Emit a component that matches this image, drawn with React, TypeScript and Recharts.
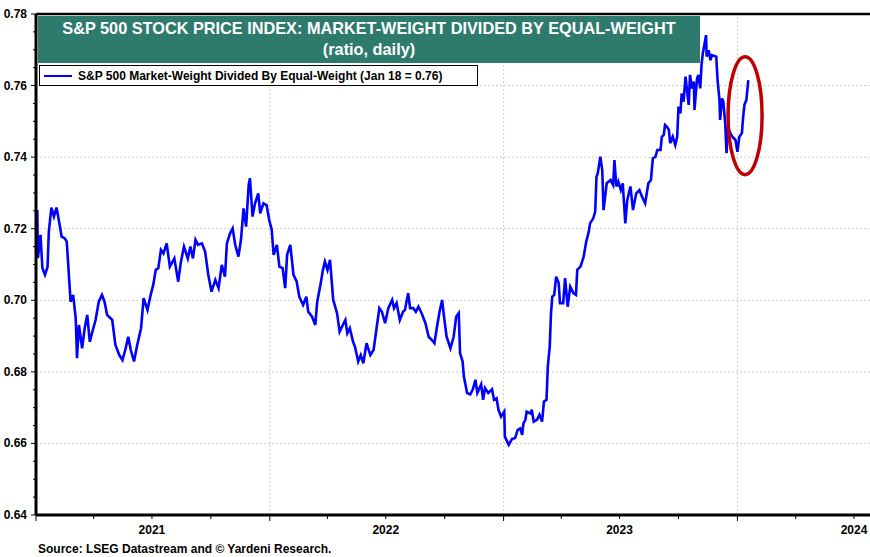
import { LineChart, Line, XAxis, YAxis, ReferenceLine, ReferenceDot } from "recharts"

const FONT = "'Liberation Sans', Arial, sans-serif"

// S&P 500 market-weight / equal-weight ratio
const ratio2021: [string, number][] = [
  ["2021-01-03", 0.7252], ["2021-01-04", 0.7118], ["2021-01-08", 0.7183], ["2021-01-11", 0.709],
  ["2021-01-15", 0.7071], ["2021-01-19", 0.7093], ["2021-01-21", 0.7191], ["2021-01-25", 0.7259],
  ["2021-01-29", 0.7234], ["2021-02-02", 0.7259], ["2021-02-06", 0.722], ["2021-02-10", 0.7178],
  ["2021-02-15", 0.7173], ["2021-02-18", 0.7164], ["2021-02-22", 0.7052], ["2021-02-24", 0.6996],
  ["2021-02-28", 0.7015], ["2021-03-04", 0.695], ["2021-03-06", 0.6838], ["2021-03-09", 0.6931],
  ["2021-03-14", 0.6866], ["2021-03-18", 0.6922], ["2021-03-22", 0.6959], ["2021-03-26", 0.6884],
  ["2021-03-30", 0.6912], ["2021-04-04", 0.6945], ["2021-04-09", 0.6996], ["2021-04-14", 0.7015],
  ["2021-04-18", 0.6996], ["2021-04-22", 0.6959], ["2021-04-30", 0.6945], ["2021-05-05", 0.6875],
  ["2021-05-11", 0.6847], ["2021-05-16", 0.6833], ["2021-05-21", 0.6866], ["2021-05-25", 0.6898],
  ["2021-05-29", 0.6861], ["2021-06-03", 0.6829], ["2021-06-08", 0.6875], ["2021-06-14", 0.6922],
  ["2021-06-18", 0.7006], ["2021-06-24", 0.6973], ["2021-06-29", 0.7015], ["2021-07-03", 0.7043],
  ["2021-07-07", 0.7085], ["2021-07-11", 0.709], ["2021-07-15", 0.7141], ["2021-07-19", 0.7131],
  ["2021-07-24", 0.7159], ["2021-07-29", 0.7094], ["2021-08-05", 0.7117], ["2021-08-11", 0.7052],
  ["2021-08-15", 0.7105], ["2021-08-20", 0.715], ["2021-08-26", 0.7117], ["2021-08-30", 0.715],
  ["2021-09-03", 0.7117], ["2021-09-07", 0.7169], ["2021-09-11", 0.7155], ["2021-09-17", 0.7159],
  ["2021-09-22", 0.7136], ["2021-09-27", 0.7071], ["2021-10-02", 0.7024], ["2021-10-08", 0.7057],
  ["2021-10-13", 0.7034], ["2021-10-18", 0.7099], ["2021-10-23", 0.7066], ["2021-10-26", 0.7159],
  ["2021-10-31", 0.7187], ["2021-11-04", 0.7201], ["2021-11-08", 0.7155], ["2021-11-13", 0.7122],
  ["2021-11-17", 0.7169], ["2021-11-21", 0.7257], ["2021-11-25", 0.7206], ["2021-11-29", 0.7322],
  ["2021-12-01", 0.7341], ["2021-12-05", 0.7234], ["2021-12-09", 0.7271], ["2021-12-14", 0.7299],
  ["2021-12-17", 0.7243], ["2021-12-22", 0.7271], ["2021-12-27", 0.7266], ["2021-12-31", 0.7225],
]

const ratio2022: [string, number][] = [
  ["2022-01-04", 0.7197], ["2022-01-07", 0.7127], ["2022-01-12", 0.7155], ["2022-01-16", 0.7094],
  ["2022-01-21", 0.709], ["2022-01-25", 0.7034], ["2022-01-28", 0.7127], ["2022-02-02", 0.7155],
  ["2022-02-07", 0.7071], ["2022-02-12", 0.7052], ["2022-02-16", 0.701], ["2022-02-22", 0.6987],
  ["2022-02-27", 0.701], ["2022-03-02", 0.6968], ["2022-03-08", 0.6954], ["2022-03-13", 0.6931],
  ["2022-03-16", 0.6996], ["2022-03-21", 0.7043], ["2022-03-25", 0.7085], ["2022-03-28", 0.7108],
  ["2022-04-01", 0.7085], ["2022-04-05", 0.7113], ["2022-04-10", 0.7001], ["2022-04-16", 0.6964],
  ["2022-04-20", 0.6912], ["2022-04-25", 0.6931], ["2022-04-29", 0.6945], ["2022-05-02", 0.6908],
  ["2022-05-06", 0.6922], ["2022-05-11", 0.6884], ["2022-05-14", 0.687], ["2022-05-19", 0.6829],
  ["2022-05-23", 0.6847], ["2022-05-27", 0.6824], ["2022-06-01", 0.688], ["2022-06-07", 0.6847],
  ["2022-06-12", 0.6861], ["2022-06-17", 0.6926], ["2022-06-21", 0.6978], ["2022-06-25", 0.6968],
  ["2022-06-30", 0.6936], ["2022-07-05", 0.6978], ["2022-07-11", 0.7001], ["2022-07-14", 0.6978],
  ["2022-07-18", 0.6992], ["2022-07-23", 0.6945], ["2022-07-28", 0.6968], ["2022-07-31", 0.6973],
  ["2022-08-05", 0.702], ["2022-08-08", 0.6978], ["2022-08-13", 0.6978], ["2022-08-17", 0.6968],
  ["2022-08-21", 0.6982], ["2022-08-26", 0.6964], ["2022-09-01", 0.6936], ["2022-09-06", 0.6898],
  ["2022-09-11", 0.6889], ["2022-09-15", 0.688], ["2022-09-19", 0.6926], ["2022-09-23", 0.6968],
  ["2022-09-27", 0.7001], ["2022-09-30", 0.6954], ["2022-10-04", 0.6898], ["2022-10-10", 0.6866],
  ["2022-10-15", 0.6898], ["2022-10-19", 0.6954], ["2022-10-23", 0.6964], ["2022-10-25", 0.6852],
  ["2022-10-29", 0.6829], ["2022-10-31", 0.6787], ["2022-11-05", 0.6741], ["2022-11-10", 0.6737],
  ["2022-11-14", 0.6751], ["2022-11-18", 0.6778], ["2022-11-21", 0.6741], ["2022-11-27", 0.6765],
  ["2022-11-30", 0.6722], ["2022-12-03", 0.6755], ["2022-12-08", 0.6741], ["2022-12-14", 0.6751],
  ["2022-12-17", 0.6722], ["2022-12-21", 0.6726], ["2022-12-24", 0.6694], ["2022-12-28", 0.6675],
]

const ratio2023: [string, number][] = [
  ["2023-01-02", 0.6689], ["2023-01-03", 0.6619], ["2023-01-09", 0.6596], ["2023-01-14", 0.6612],
  ["2023-01-19", 0.6615], ["2023-01-23", 0.6638], ["2023-01-27", 0.6642], ["2023-01-30", 0.6624],
  ["2023-02-01", 0.6656], ["2023-02-04", 0.6666], ["2023-02-06", 0.6689], ["2023-02-12", 0.6684],
  ["2023-02-14", 0.6694], ["2023-02-17", 0.6661], ["2023-02-22", 0.6666], ["2023-02-26", 0.668],
  ["2023-03-02", 0.6661], ["2023-03-05", 0.6717], ["2023-03-09", 0.6722], ["2023-03-11", 0.6815],
  ["2023-03-14", 0.687], ["2023-03-16", 0.6964], ["2023-03-18", 0.701], ["2023-03-21", 0.7015],
  ["2023-03-24", 0.7066], ["2023-03-28", 0.7048], ["2023-03-30", 0.6992], ["2023-04-04", 0.6992],
  ["2023-04-07", 0.7062], ["2023-04-11", 0.6982], ["2023-04-15", 0.7038], ["2023-04-20", 0.702],
  ["2023-04-24", 0.7015], ["2023-04-26", 0.7085], ["2023-05-01", 0.7094], ["2023-05-06", 0.7122],
  ["2023-05-10", 0.7164], ["2023-05-14", 0.7192], ["2023-05-16", 0.7215], ["2023-05-21", 0.7229],
  ["2023-05-24", 0.7248], ["2023-05-26", 0.7345], ["2023-05-28", 0.7355], ["2023-06-01", 0.7401],
  ["2023-06-04", 0.7364], ["2023-06-06", 0.7252], ["2023-06-11", 0.7327], ["2023-06-17", 0.7336],
  ["2023-06-21", 0.7322], ["2023-06-23", 0.7392], ["2023-06-26", 0.7318], ["2023-06-29", 0.7332],
  ["2023-07-03", 0.7308], ["2023-07-06", 0.7327], ["2023-07-10", 0.7215], ["2023-07-13", 0.728],
  ["2023-07-18", 0.7318], ["2023-07-22", 0.7252], ["2023-07-27", 0.7299], ["2023-08-01", 0.7308],
  ["2023-08-05", 0.729], ["2023-08-10", 0.7271], ["2023-08-15", 0.7327], ["2023-08-19", 0.7336],
  ["2023-08-22", 0.7397], ["2023-08-26", 0.7401], ["2023-08-29", 0.742], ["2023-09-03", 0.742],
  ["2023-09-05", 0.7457], ["2023-09-08", 0.7462], ["2023-09-10", 0.749], ["2023-09-13", 0.7485],
  ["2023-09-16", 0.7476], ["2023-09-18", 0.7439], ["2023-09-22", 0.7457], ["2023-09-26", 0.7434],
  ["2023-09-29", 0.7457], ["2023-10-01", 0.7541], ["2023-10-04", 0.7522], ["2023-10-06", 0.7578],
  ["2023-10-09", 0.7555], ["2023-10-12", 0.7625], ["2023-10-14", 0.7592], ["2023-10-17", 0.7546],
  ["2023-10-19", 0.763], ["2023-10-22", 0.7592], ["2023-10-25", 0.7611], ["2023-10-26", 0.7532],
  ["2023-10-30", 0.762], ["2023-11-01", 0.763], ["2023-11-04", 0.7592], ["2023-11-06", 0.7658],
  ["2023-11-08", 0.769], ["2023-11-10", 0.7709], ["2023-11-13", 0.7741], ["2023-11-14", 0.7681],
  ["2023-11-17", 0.7699], ["2023-11-20", 0.7671], ["2023-11-22", 0.7685], ["2023-11-26", 0.7683],
  ["2023-11-29", 0.7681], ["2023-12-01", 0.7616], ["2023-12-04", 0.756], ["2023-12-05", 0.7504],
  ["2023-12-08", 0.7564], ["2023-12-10", 0.7555], ["2023-12-13", 0.7495], ["2023-12-15", 0.7411],
  ["2023-12-17", 0.7485], ["2023-12-21", 0.7467], ["2023-12-24", 0.7457], ["2023-12-29", 0.7448],
]

const ratio2024: [string, number][] = [
  ["2024-01-01", 0.7415], ["2024-01-04", 0.7457], ["2024-01-08", 0.7467], ["2024-01-10", 0.7513],
  ["2024-01-12", 0.7546], ["2024-01-15", 0.756], ["2024-01-17", 0.7597], ["2024-01-18", 0.7615],
]

const yTicks = [
  0.64, 0.645, 0.65, 0.655, 0.66, 0.665, 0.67, 0.675, 0.68, 0.685, 0.69, 0.695, 0.7, 0.705,
  0.71, 0.715, 0.72, 0.725, 0.73, 0.735, 0.74, 0.745, 0.75, 0.755, 0.76, 0.765, 0.77, 0.775, 0.78,
]
const yGrid = [0.66, 0.68, 0.7, 0.72, 0.74, 0.76]
const quarterTicks = [
  "2021-01-01", "2021-04-01", "2021-07-01", "2021-10-01",
  "2022-01-01", "2022-04-01", "2022-07-01", "2022-10-01",
  "2023-01-01", "2023-04-01", "2023-07-01", "2023-10-01",
  "2024-01-01", "2024-04-01", "2024-07-01",
]
const yearStarts = ["2022-01-01", "2023-01-01", "2024-01-01"]

const toTime = (s: string) => Date.parse(s + "T00:00:00Z")

const data = [...ratio2021, ...ratio2022, ...ratio2023, ...ratio2024].map(([d, v]) => ({ t: toTime(d), v }))

const XTick = ({ x, y, payload }: any) => {
  const d = new Date(payload.value)
  const m = d.getUTCMonth()
  return (
    <g>
      <line x1={x} x2={x} y1={y} y2={y + (m === 0 ? 6 : 4)} stroke="#000" strokeWidth={1} />
      {m === 6 && (
        <text x={x} y={y + 19} textAnchor="middle" fontFamily={FONT} fontWeight="bold" fontSize={12} fill="#000">
          {d.getUTCFullYear()}
        </text>
      )}
    </g>
  )
}

const YTick = ({ x, y, payload }: any) => {
  const v = payload.value
  const major = Math.abs(v * 50 - Math.round(v * 50)) < 1e-6
  return (
    <g>
      <line x1={x - (major ? 5 : 3)} x2={x} y1={y} y2={y} stroke="#000" strokeWidth={1} />
      {major && (
        <text x={x - 9} y={y + 4} textAnchor="end" fontFamily={FONT} fontWeight="bold" fontSize={12} fill="#000">
          {v.toFixed(2)}
        </text>
      )}
    </g>
  )
}

export default function App() {
  return (
    <div style={{ position: "absolute", left: 0, top: 0, width: 870, height: 557, background: "#fff", fontFamily: FONT }}>
      <LineChart width={870} height={557} data={data} margin={{ top: 14, right: 0, bottom: 0, left: 0 }}>
        <XAxis
          dataKey="t"
          type="number"
          scale="time"
          domain={[toTime("2021-01-01"), toTime("2024-07-26")]}
          ticks={quarterTicks.map(toTime)}
          interval={0}
          height={42}
          tickSize={0}
          tickMargin={0}
          tickLine={false}
          tick={<XTick />}
          axisLine={{ stroke: "#000", strokeWidth: 3 }}
          allowDataOverflow
        />
        <YAxis
          type="number"
          domain={[0.64, 0.78]}
          ticks={yTicks}
          interval={0}
          width={36}
          tickSize={0}
          tickMargin={0}
          tickLine={false}
          tick={<YTick />}
          axisLine={{ stroke: "#000", strokeWidth: 3 }}
          allowDataOverflow
        />
        {yGrid.map((v) => (
          <ReferenceLine key={"h" + v} y={v} stroke="#cfcfcf" strokeDasharray="2 2" />
        ))}
        {yearStarts.map((d) => (
          <ReferenceLine key={"v" + d} x={toTime(d)} stroke="#cfcfcf" strokeDasharray="2 2" />
        ))}
        <ReferenceLine y={0.78} stroke="#000" strokeWidth={2.5} />
        <Line type="linear" dataKey="v" stroke="#0000ff" strokeWidth={2.6} dot={false} isAnimationActive={false} />
        <ReferenceDot
          x={toTime("2024-01-13")}
          y={0.7516}
          ifOverflow="visible"
          shape={(p: any) => (
            <ellipse cx={p.cx} cy={p.cy} rx={17} ry={59} fill="none" stroke="#c00000" strokeWidth={3.5} />
          )}
        />
      </LineChart>

      <div
        style={{
          position: "absolute", left: 38, top: 16, width: 662, height: 47, background: "#2e7b6d",
          color: "#fff", fontWeight: "bold", fontSize: 16.3, lineHeight: "21px", textAlign: "center",
          paddingTop: 2, boxSizing: "border-box",
        }}
      >
        <div>S&amp;P 500 STOCK PRICE INDEX: MARKET-WEIGHT DIVIDED BY EQUAL-WEIGHT</div>
        <div>(ratio, daily)</div>
      </div>

      <div
        style={{
          position: "absolute", left: 39, top: 65, width: 439, height: 21, background: "#fff",
          border: "1.5px solid #000", boxSizing: "border-box", display: "flex", alignItems: "center",
        }}
      >
        <div style={{ width: 28, height: 2, background: "#0000ff", marginLeft: 4, marginRight: 6 }} />
        <span style={{ fontWeight: "bold", fontSize: 12, color: "#000" }}>
          S&amp;P 500 Market-Weight Divided By Equal-Weight (Jan 18 = 0.76)
        </span>
      </div>

      <div style={{ position: "absolute", left: 38, top: 542, fontWeight: "bold", fontSize: 12, color: "#000" }}>
        Source: LSEG Datastream and © Yardeni Research.
      </div>
    </div>
  )
}
